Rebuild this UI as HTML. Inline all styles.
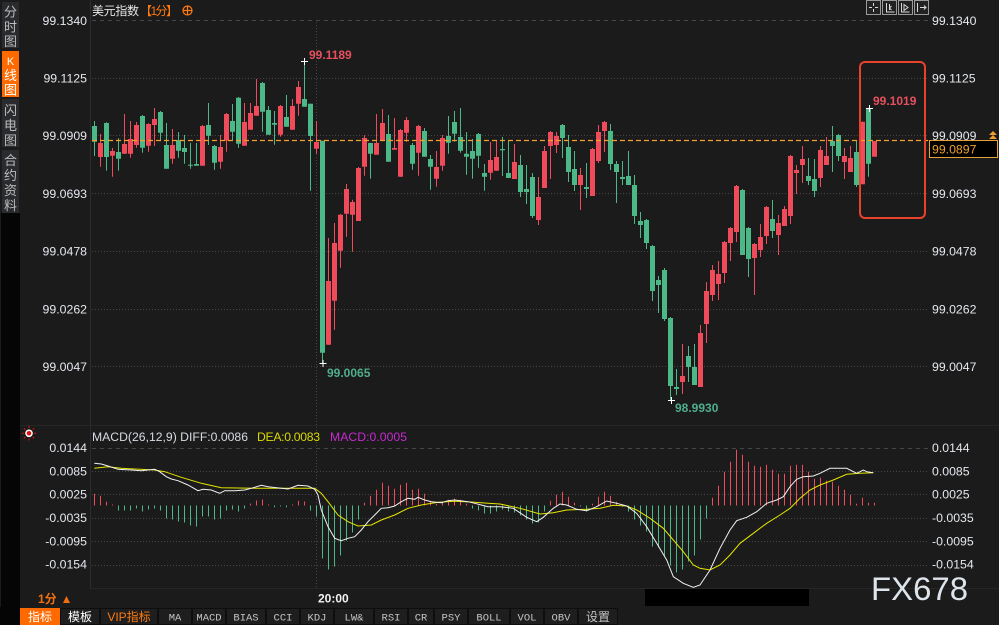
<!DOCTYPE html>
<html><head><meta charset="utf-8"><style>
html,body{margin:0;padding:0;background:#1b1b1b;width:999px;height:625px;overflow:hidden}
svg{display:block}
text{font-family:"Liberation Sans","Noto Sans CJK SC",sans-serif}
.ax{fill:#e4e8ee;font-size:12.3px}
.cj{font-family:"Liberation Sans","Noto Sans CJK SC",sans-serif}
.tb{font-family:"Liberation Mono","Noto Sans CJK SC",monospace;font-size:10.5px;fill:#c4c4c4}
</style></head><body>
<svg width="999" height="625" viewBox="0 0 999 625" xmlns="http://www.w3.org/2000/svg">
<rect x="0" y="0" width="999" height="625" fill="#1b1b1b"/>
<!-- sidebar -->
<rect x="1" y="213" width="19" height="412" fill="#050505"/>
<rect x="2" y="2" width="17" height="46" fill="#2a2b2f"/>
<rect x="2" y="51" width="17" height="46" fill="#ff6a00"/>
<rect x="2" y="99" width="17" height="48" fill="#2a2b2f"/>
<rect x="2" y="150" width="17" height="63" fill="#2a2b2f"/>
<g class="cj" font-size="13" fill="#bcbcbc" text-anchor="middle">
<text x="10.5" y="16.5">分</text><text x="10.5" y="31.5">时</text><text x="10.5" y="46">图</text>
<text x="10.5" y="65" fill="#fff" font-size="11">K</text><text x="10.5" y="80" fill="#fff">线</text><text x="10.5" y="94.5" fill="#fff">图</text>
<text x="10.5" y="115">闪</text><text x="10.5" y="130">电</text><text x="10.5" y="145">图</text>
<text x="10.5" y="165">合</text><text x="10.5" y="180">约</text><text x="10.5" y="195">资</text><text x="10.5" y="210">料</text>
</g>
<!-- borders -->
<line x1="90.5" y1="0" x2="90.5" y2="588" stroke="#2c2c2c"/>
<line x1="20" y1="425.5" x2="999" y2="425.5" stroke="#262626"/>
<line x1="90" y1="588.5" x2="999" y2="588.5" stroke="#262626"/>
<!-- grid main -->
<g stroke="#464646" stroke-width="1">
<line x1="92" y1="20.5" x2="928" y2="20.5" stroke-dasharray="4 4"/>
<g stroke-dasharray="1 2">
<line x1="92" y1="78.5" x2="928" y2="78.5"/>
<line x1="92" y1="135.5" x2="928" y2="135.5"/>
<line x1="92" y1="193.5" x2="928" y2="193.5"/>
<line x1="92" y1="251.5" x2="928" y2="251.5"/>
<line x1="92" y1="309.5" x2="928" y2="309.5"/>
<line x1="92" y1="366.5" x2="928" y2="366.5"/>
<line x1="92" y1="471.5" x2="928" y2="471.5"/>
<line x1="92" y1="494.5" x2="928" y2="494.5"/>
<line x1="92" y1="518.5" x2="928" y2="518.5"/>
<line x1="92" y1="541.5" x2="928" y2="541.5"/>
<line x1="92" y1="565.5" x2="928" y2="565.5"/>
<line x1="316.5" y1="22" x2="316.5" y2="588"/>
</g>
<line x1="92" y1="448.5" x2="928" y2="448.5" stroke-dasharray="4 4"/>
</g>
<!-- title -->
<text x="92" y="15" class="cj" font-size="12" fill="#e6e6e6" textLength="47">美元指数</text>
<text x="140" y="15" class="cj" font-size="12" fill="#ff7a10" textLength="38">【1分】</text>
<circle cx="187.5" cy="10.5" r="4.5" fill="none" stroke="#ff7a10" stroke-width="1.2"/>
<path d="M183 10.5h9M187.5 6v9" stroke="#ff7a10" stroke-width="1.2"/>
<!-- top right icons -->
<g stroke="#9a9a9a" fill="#222">
<rect x="866.5" y="0.5" width="14" height="14"/><rect x="882.5" y="0.5" width="14" height="14"/>
<rect x="898.5" y="0.5" width="14" height="14"/><rect x="914.5" y="0.5" width="14" height="14"/>
</g>
<g stroke="#d8d8d8" fill="none" stroke-width="1">
<path d="M873.5 3v3M873.5 9v3M869 7.5h3M875 7.5h3"/>
<path d="M886.5 3v9h8M889.5 4v6M891.5 6l-2 2 2 2"/>
<path d="M901.5 3v9h8M904 4.5l4 3-4 3z"/>
<path d="M917.5 3v9M920 7.5h6M924 5.5l2 2-2 2"/>
</g>
<!-- left axis labels -->
<g class="ax" text-anchor="end">
<text x="87" y="25">99.1340</text><text x="87" y="82.5">99.1125</text><text x="87" y="140">99.0909</text>
<text x="87" y="198">99.0693</text><text x="87" y="255.5">99.0478</text><text x="87" y="313.5">99.0262</text>
<text x="87" y="371">99.0047</text>
<text x="87" y="452">0.0144</text><text x="87" y="475.5">0.0085</text><text x="87" y="498.5">0.0025</text>
<text x="87" y="522">-0.0035</text><text x="87" y="545.5">-0.0095</text><text x="87" y="568.5">-0.0154</text>
</g>
<g class="ax">
<text x="932" y="25">99.1340</text><text x="932" y="82.5">99.1125</text><text x="932" y="140">99.0909</text>
<text x="932" y="198">99.0693</text><text x="932" y="255.5">99.0478</text><text x="932" y="313.5">99.0262</text>
<text x="932" y="371">99.0047</text>
<text x="932" y="452">0.0144</text><text x="932" y="475.5">0.0085</text><text x="932" y="498.5">0.0025</text>
<text x="932" y="522">-0.0035</text><text x="932" y="545.5">-0.0095</text><text x="932" y="568.5">-0.0154</text>
</g>
<!-- candles green -->
<path stroke="#4cb887" stroke-width="1" fill="none" d="M94.5 121V156M106.5 122.3V170.7M118.5 138.3V170.7M142.5 115V152.7M160.5 111V140.7M166.5 123V168.7M178.5 132V157.7M184.5 135V163.7M190.5 143V168.7M196.5 143V165.7M208.5 103V145M214.5 145V169.7M232.5 104V140.7M238.5 97V147.7M262.5 82V131.7M268.5 106V134.7M274.5 111V144.7M286.5 95V126.7M304.5 61V106.7M310.5 103.7V190.7M322.5 140.7V363.3M370.5 142.7V178.7M388.5 115V161.7M412.5 143V169.7M424.5 128V156.7M430.5 155V189.7M448.5 116V153.7M454.5 111V141.7M460.5 108V152.7M466.5 132V174.7M472.5 139V178.7M478.5 133V167.7M484.5 164V190.7M502.5 137V176M508.5 141V178M520.5 155V197M526.5 165V204M532.5 173V218M562.5 124V158M568.5 135V182M574.5 151V191M586.5 163V198M610.5 124V170M616.5 161V203M622.5 161V185M628.5 151V185M634.5 175V224M640.5 212V238M646.5 219V249M652.5 245V301M658.5 276V313M664.5 268V321M670.5 317V400M676.5 369V395M688.5 346V382M694.5 344V385M742.5 189V255M748.5 227V277M772.5 200V238M808.5 158V185M814.5 159V197M832.5 126V172M838.5 134V161M856.5 140V187M868.5 107.7V176.7"/>
<path fill="#4cb887" d="M92 126h5V141.7h-5zM104 123h5V157h-5zM116 152h5V158.7h-5zM140 116h5V147.7h-5zM158 112h5V132.7h-5zM164 145h5V168.7h-5zM176 140h5V150.7h-5zM182 148h5V152h-5zM188 164.7h5V165.7h-5zM194 164h5V165.7h-5zM206 125h5V135.7h-5zM212 146h5V162.7h-5zM230 121h5V131.7h-5zM236 97.7h5V143.7h-5zM260 83h5V111.7h-5zM266 110h5V134.7h-5zM272 123h5V124.7h-5zM284 117h5V126.7h-5zM302 99h5V106.7h-5zM308 103.7h5V136h-5zM320 140.7h5V352.7h-5zM368 143h5V153.7h-5zM386 134h5V161.7h-5zM410 145h5V163.7h-5zM422 131h5V156.7h-5zM428 159h5V166.7h-5zM446 136h5V142.7h-5zM452 122h5V133.7h-5zM458 137h5V150.7h-5zM464 153.7h5V156.7h-5zM470 151h5V158.7h-5zM476 134h5V155.7h-5zM482 173h5V176.7h-5zM500 149h5V150.3h-5zM506 173h5V178h-5zM518 165h5V192h-5zM524 189h5V192h-5zM530 177h5V216h-5zM560 125h5V138h-5zM566 147h5V172h-5zM572 169h5V185h-5zM584 187h5V189h-5zM608 131h5V164h-5zM614 164h5V172h-5zM620 177h5V179h-5zM626 176h5V185h-5zM632 185h5V216h-5zM638 221h5V225h-5zM644 220h5V243h-5zM650 246h5V291h-5zM656 280h5V285h-5zM662 270h5V319h-5zM668 318h5V386h-5zM674 387h5V389h-5zM686 356h5V367h-5zM692 367h5V385h-5zM740 190h5V255h-5zM746 228h5V259h-5zM770 219h5V231h-5zM806 176h5V181h-5zM812 179h5V191h-5zM830 141h5V146h-5zM836 135h5V156h-5zM854 152h5V185h-5zM866 108.3h5V163.7h-5z"/>
<!-- candles red -->
<path stroke="#ef4b5b" stroke-width="1" fill="none" d="M100.5 134V166.7M112.5 148V176.7M124.5 114V154M130.5 121V157.7M136.5 122V147.7M148.5 123.3V151.7M154.5 108V146M172.5 129V163.7M202.5 125V165.7M220.5 135V168.7M226.5 113V151.7M244.5 103V145.7M250.5 103V129.7M256.5 79V115.7M280.5 105V136.7M292.5 99V129.7M298.5 81V115.7M316.5 121V153.7M328.5 238V344.7M334.5 223V329.7M340.5 214V267.7M346.5 184V236.7M352.5 199.7V251.7M358.5 167V221M364.5 135.3V175.7M376.5 114V154.3M382.5 109V140M394.5 118V149.7M400.5 129V176.7M406.5 117V141.7M418.5 125V175.7M436.5 151V186.7M442.5 135V170.7M490.5 142V179.7M496.5 141V170.7M514.5 144V179M538.5 177V225M544.5 146V188M550.5 131V179M556.5 132V153M580.5 168V210M592.5 148V196M598.5 125V163M604.5 121V152M682.5 344V394M700.5 325V387M706.5 282V343M712.5 265V301M718.5 261V300M724.5 241V283M730.5 227V261M736.5 185V242M754.5 243V295M760.5 224V257M766.5 206V244M778.5 215V255M784.5 206V226M790.5 155V224M796.5 165V194M802.5 146V183M820.5 146V187M826.5 137V165M844.5 148V179M850.5 146V172M862.5 121.7V184.3"/>
<path fill="#ef4b5b" d="M98 143h5V157h-5zM110 151h5V155.7h-5zM122 144h5V153.7h-5zM128 139h5V153.7h-5zM134 125h5V145h-5zM146 124h5V145.7h-5zM152 119h5V125h-5zM170 145h5V158.7h-5zM200 126h5V165.7h-5zM218 147h5V161.7h-5zM224 114h5V140.7h-5zM242 122h5V145.7h-5zM248 113h5V129.7h-5zM254 106h5V115.7h-5zM278 106h5V134.7h-5zM290 106h5V129.7h-5zM296 87h5V103.7h-5zM314 142h5V148.7h-5zM326 281h5V344.7h-5zM332 243h5V300.7h-5zM338 214.7h5V250.7h-5zM344 189h5V213.7h-5zM350 202h5V214.7h-5zM356 168h5V221h-5zM362 138h5V166.7h-5zM374 143h5V154.7h-5zM380 123h5V140h-5zM392 148h5V149.7h-5zM398 130h5V176.7h-5zM404 120h5V132.7h-5zM416 126h5V152.7h-5zM434 167h5V178.7h-5zM440 138h5V165.7h-5zM488 160h5V172.7h-5zM494 157h5V170.7h-5zM512 162h5V179h-5zM536 197h5V220h-5zM542 151h5V188h-5zM548 132h5V146h-5zM554 136h5V145h-5zM578 175h5V185h-5zM590 149h5V196h-5zM596 132h5V161h-5zM602 122h5V131h-5zM680 376h5V382h-5zM698 333h5V387h-5zM704 291h5V324h-5zM710 270h5V295h-5zM716 274h5V284h-5zM722 242h5V273h-5zM728 228h5V243h-5zM734 186h5V232h-5zM752 244h5V258h-5zM758 237h5V250h-5zM764 207h5V236h-5zM776 223h5V235h-5zM782 209h5V226h-5zM788 156h5V216h-5zM794 170h5V173h-5zM800 159h5V165h-5zM818 150h5V178h-5zM824 156h5V165h-5zM842 156h5V162h-5zM848 158h5V172h-5zM860 121.7h5V184.3h-5zM872 141h5V156.7h-5z"/>
<!-- current price line -->
<line x1="92" y1="140.5" x2="928" y2="140.5" stroke="#f5a028" stroke-width="1.2" stroke-dasharray="5 3"/>
<!-- crosses -->
<path stroke="#ffffff" stroke-width="1" d="M301 61.5h7M304.5 58v7M319.5 363.5h7M323 360v7M668 400.5h7M671.5 397v7M866 108.5h7M869.5 105v7"/>
<!-- high/low labels -->
<g font-weight="bold" font-size="12">
<text x="309" y="59" fill="#e8505f">99.1189</text>
<text x="327" y="377" fill="#4fae8c">99.0065</text>
<text x="675" y="412" fill="#4fae8c">98.9930</text>
<text x="873" y="105" fill="#e8505f">99.1019</text>
</g>
<!-- highlight box -->
<rect x="860" y="62" width="65" height="156" rx="5" ry="5" fill="none" stroke="#e8412c" stroke-width="2"/>
<!-- current price box -->
<rect x="929.5" y="140.5" width="68" height="17" fill="#000" stroke="#e8a13a" stroke-width="1"/>
<text x="932" y="153.5" fill="#f0a030" font-size="12.3">99.0897</text>
<path d="M989 135l4-4 4 4zM989 139l4-4 4 4z" fill="#f0a030"/>
<!-- MACD header -->
<g>
<g stroke="#e01010" stroke-width="1">
<path d="M29 426v2M29 438.5v2M21.8 433.3h2M34.2 433.3h2M23.9 428.2l1.4 1.4M32.7 437l1.4 1.4M23.9 438.4l1.4-1.4M32.7 429.6l1.4-1.4"/>
</g>
<circle cx="29" cy="433.3" r="3.8" fill="#fff"/>
<circle cx="29" cy="433.3" r="2.3" fill="#e01010"/>
</g>
<text x="92" y="441" font-size="12.2" fill="#d6dbe2" textLength="156">MACD(26,12,9) DIFF:0.0086</text>
<text x="257" y="441" font-size="12.2" fill="#d8d800" textLength="63">DEA:0.0083</text>
<text x="330" y="441" font-size="12.2" fill="#c62ad0" textLength="77">MACD:0.0005</text>
<!-- MACD bars red -->
<path stroke="#ef4b5b" stroke-width="1" d="M94.5 505.5v-11.7M100.5 505.5v-9.7M106.5 505.5v-3.7M112.5 505.5v-1M250.5 505.5v-2M256.5 505.5v-5M262.5 505.5v-6M268.5 505.5v-1M292.5 505.5v-1M298.5 505.5v-4.7M304.5 505.5v-4M364.5 505.5v-2.7M370.5 505.5v-9.7M376.5 505.5v-15.7M382.5 505.5v-22.7M388.5 505.5v-19.7M394.5 505.5v-16.7M400.5 505.5v-20.7M406.5 505.5v-22.7M412.5 505.5v-15.7M418.5 505.5v-16.7M424.5 505.5v-11.7M430.5 505.5v-4.7M436.5 505.5v-1.7M442.5 505.5v-3.7M448.5 505.5v-5.7M454.5 505.5v-6.7M460.5 505.5v-5.7M466.5 505.5v-1.7M550.5 505.5v-4.7M556.5 505.5v-10.7M562.5 505.5v-13.7M568.5 505.5v-8.7M574.5 505.5v-2.7M592.5 505.5v-1.7M598.5 505.5v-8.7M604.5 505.5v-13.7M610.5 505.5v-9.7M616.5 505.5v-3.7M712.5 505.5v-7.7M718.5 505.5v-19.7M724.5 505.5v-33.7M730.5 505.5v-43.7M736.5 505.5v-55.7M742.5 505.5v-50.7M748.5 505.5v-43.7M754.5 505.5v-39.7M760.5 505.5v-38.7M766.5 505.5v-40.7M772.5 505.5v-35.7M778.5 505.5v-31.7M784.5 505.5v-31.7M790.5 505.5v-39.7M796.5 505.5v-40.7M802.5 505.5v-40.7M808.5 505.5v-33.7M814.5 505.5v-26.7M820.5 505.5v-27.7M826.5 505.5v-24.7M832.5 505.5v-23.7M838.5 505.5v-19.7M844.5 505.5v-15.7M850.5 505.5v-10.7M856.5 505.5v-1.7M862.5 505.5v-7.7M868.5 505.5v-2.7M874.5 505.5v-2.7"/>
<!-- MACD bars green -->
<path stroke="#4cb887" stroke-width="1" d="M118.5 505.5v5M124.5 505.5v5M130.5 505.5v5M136.5 505.5v3M142.5 505.5v6M148.5 505.5v4M154.5 505.5v3M160.5 505.5v5M166.5 505.5v13M172.5 505.5v14M178.5 505.5v16M184.5 505.5v17M190.5 505.5v20M196.5 505.5v21M202.5 505.5v11M208.5 505.5v11M214.5 505.5v14M220.5 505.5v13M226.5 505.5v5M232.5 505.5v4M238.5 505.5v6M244.5 505.5v3M274.5 505.5v1.7M280.5 505.5v1M286.5 505.5v1.7M310.5 505.5v5M316.5 505.5v11M322.5 505.5v53M328.5 505.5v64M334.5 505.5v61M340.5 505.5v50M346.5 505.5v35M352.5 505.5v27M358.5 505.5v14M472.5 505.5v3M478.5 505.5v5M484.5 505.5v8M490.5 505.5v8M496.5 505.5v6M502.5 505.5v4M508.5 505.5v6M514.5 505.5v7M520.5 505.5v10M526.5 505.5v14M532.5 505.5v18M538.5 505.5v17M544.5 505.5v6M580.5 505.5v1M586.5 505.5v6M622.5 505.5v1M628.5 505.5v6M634.5 505.5v14M640.5 505.5v20M646.5 505.5v26M652.5 505.5v41M658.5 505.5v42M664.5 505.5v50M670.5 505.5v60M676.5 505.5v67M682.5 505.5v64M688.5 505.5v56M694.5 505.5v50M700.5 505.5v34M706.5 505.5v13"/>
<!-- DEA -->
<polyline fill="none" stroke="#e6e600" stroke-width="1" points="94.3,468.3 108,466.7 121.3,468.3 154.7,470 164.7,471.7 181.3,477.3 201.3,483.3 221.3,487.7 254.7,488.3 288,488.3 314.7,488.3 321.3,493.3 328,501.7 338,515 348,521.7 358,526 371.3,525 381.3,520 394.7,515 408,508.3 421.3,505 438,502.3 454.7,501.3 471.3,502 488,503.3 500,504 520,508.3 540,514 553.3,512.7 566.7,510 586.7,509.3 600,508.3 613.3,505.3 626.7,506 636.7,510 650,518.3 663.3,528.3 673.3,540 683.3,551.7 693.3,565 700,568.3 710,570 720,565 730,555 740,543.3 753.3,533.3 766.7,523.3 780,515 790,508.3 800,498.3 810,490 820,485 833.3,480 846.7,474.3 860,473.3 873.3,472.7"/>
<!-- DIFF -->
<polyline fill="none" stroke="#f2f2f2" stroke-width="1" points="94.3,463.3 101.3,464 108,466 118,469.3 131.3,470 141.3,470.7 154.7,469.3 159.7,471.7 166.3,476.7 171.3,479 178,480.7 188,485 198,490.7 203,489.3 211.3,490 219.7,493.3 224.7,490.7 234.7,490.7 244.7,490 251.3,488.3 261.3,485.3 268,486.7 281.3,488.3 288,489 298,485.3 308,486 314.7,489.3 318,495 321.3,510 328,526.7 334.7,538.3 341.3,540.7 348,538.3 354.7,536.7 361.3,530 368,521.7 374.7,515 381.3,508.3 388,507.7 394.7,506 401.3,501.7 408,498.3 414.7,499.3 418,497.3 424.7,500 431.3,501.7 441.3,502.7 448,500.7 454.7,500 468,501.7 474.7,503.3 481.3,505 488,506.7 500,506.7 513.3,508.3 526.7,517.3 536.7,521.7 543.3,517.3 553.3,508.3 560,504 566.7,505 576.7,509.3 586.7,510.7 596.7,506.7 606.7,501 616.7,503.3 626.7,506 636.7,513.3 646.7,526.7 656.7,543.3 666.7,560 673.3,576.7 683.3,583.3 693.3,587.3 700,585 710,570 720,548.3 730,530 736.7,520.7 746.7,517.3 756.7,511.7 766.7,503.3 776.7,500 783.3,496.7 790,486.7 796.7,479.3 803.3,476.7 813.3,476 820,473.3 830,468.3 846.7,468.3 856.7,473.3 863.3,470 866.7,471.7 873.3,472.7"/>
<!-- time axis -->
<text x="38" y="603" class="cj" font-size="12" font-weight="bold" fill="#f07010">1分</text>
<path d="M63 603l3.5-7 3.5 7z" fill="#f07010"/>
<text x="318" y="602.5" font-size="12" font-weight="bold" fill="#f2f2f2">20:00</text>
<rect x="645" y="589" width="164" height="17" fill="#000"/>
<text x="871" y="600" font-size="32" fill="#dde4ec" textLength="97" lengthAdjust="spacingAndGlyphs">FX678</text>
<!-- toolbar -->
<rect x="0" y="607" width="999" height="18" fill="#1b1b1b"/>
<rect x="0" y="607" width="20" height="18" fill="#050505"/>
<g fill="#1e1e1e" stroke="#0e0e0e" stroke-width="1">
<rect x="60.5" y="608.5" width="39" height="16"/><rect x="100.5" y="608.5" width="57" height="16"/>
<rect x="158.5" y="608.5" width="33" height="16"/><rect x="192.5" y="608.5" width="33" height="16"/>
<rect x="226.5" y="608.5" width="39" height="16"/><rect x="266.5" y="608.5" width="33" height="16"/>
<rect x="300.5" y="608.5" width="33" height="16"/><rect x="334.5" y="608.5" width="39" height="16"/>
<rect x="374.5" y="608.5" width="33" height="16"/><rect x="408.5" y="608.5" width="25" height="16"/>
<rect x="434.5" y="608.5" width="33" height="16"/><rect x="468.5" y="608.5" width="41" height="16"/>
<rect x="510.5" y="608.5" width="33" height="16"/><rect x="544.5" y="608.5" width="33" height="16"/>
<rect x="578.5" y="608.5" width="39" height="16"/>
</g>
<rect x="20" y="608" width="40" height="17" fill="#ff6a00"/>
<g text-anchor="middle">
<text x="40" y="621" class="cj" font-size="12" fill="#fff">指标</text>
<text x="80" y="621" class="cj" font-size="12" fill="#fff">模板</text>
<text x="129" y="621" class="cj" font-size="12" fill="#ff7a10">VIP指标</text>
<text x="175" y="620.5" class="tb">MA</text>
<text x="209" y="620.5" class="tb">MACD</text>
<text x="246" y="620.5" class="tb">BIAS</text>
<text x="283" y="620.5" class="tb">CCI</text>
<text x="317" y="620.5" class="tb">KDJ</text>
<text x="354" y="620.5" class="tb">LW&amp;</text>
<text x="391" y="620.5" class="tb">RSI</text>
<text x="421" y="620.5" class="tb">CR</text>
<text x="451" y="620.5" class="tb">PSY</text>
<text x="489" y="620.5" class="tb">BOLL</text>
<text x="527" y="620.5" class="tb">VOL</text>
<text x="561" y="620.5" class="tb">OBV</text>
<text x="598" y="621" class="cj" font-size="12" fill="#c4c4c4">设置</text>
</g>
</svg>
</body></html>
